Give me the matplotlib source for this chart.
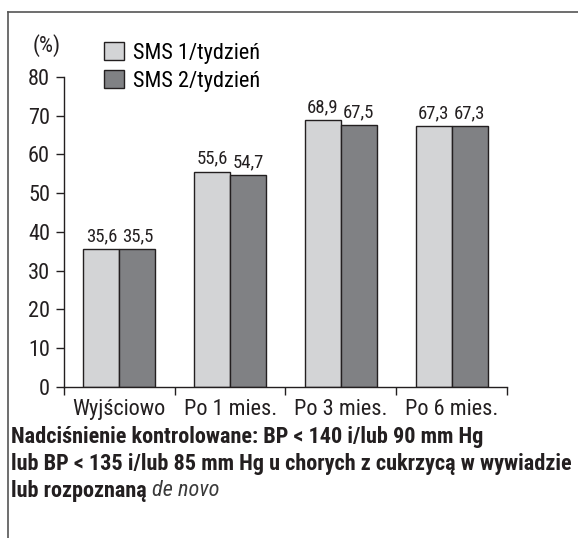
import matplotlib
matplotlib.use("Agg")
import numpy as np
import matplotlib.pyplot as plt
from matplotlib.lines import Line2D
from matplotlib.patches import Patch

categories = ["Wyjściowo", "Po 1 mies.", "Po 3 mies.", "Po 6 mies."]
series_names = ["SMS 1/tydzień", "SMS 2/tydzień"]
sms1 = [35.6, 55.6, 68.9, 67.3]
sms2 = [35.5, 54.7, 67.5, 67.3]
yticks = [0, 10, 20, 30, 40, 50, 60, 70, 80]

colors = ["#d3d4d6", "#808184"]
ink = "#231f20"
plt.rcParams["font.family"] = ["Roboto Condensed", "DejaVu Sans"]

fig = plt.figure(figsize=(5.78, 5.38), dpi=100)
ax = fig.add_axes([0.1107, 0.2807, 0.7664, 0.5762])

x = np.arange(len(categories))
w = 0.325
for vals, off, col in [(sms1, -w / 2, colors[0]), (sms2, w / 2, colors[1])]:
    ax.bar(x + off, vals, width=w, color=col, edgecolor=ink, linewidth=1.0)
    for xi, v in zip(x + off, vals):
        ax.text(xi, v + 1.0, f"{v:.1f}".replace(".", ","), ha="center", va="bottom",
                fontsize=13.5, color=ink)

ax.set_xlim(-0.5, len(categories) - 0.5)
ax.set_ylim(0, 80)
ax.set_yticks(yticks)
ax.set_xticks(x)
ax.set_xticklabels(categories)
ax.set_xticks(np.arange(len(categories) + 1) - 0.5, minor=True)
ax.tick_params(axis="x", which="major", length=0, labelsize=16, pad=9, colors=ink)
ax.tick_params(axis="x", which="minor", length=6, width=1, direction="out", color=ink)
ax.tick_params(axis="y", length=6, width=1, labelsize=16, pad=4, colors=ink)
for s in ["top", "right"]:
    ax.spines[s].set_visible(False)
for s in ["left", "bottom"]:
    ax.spines[s].set_color(ink)
    ax.spines[s].set_linewidth(1.0)

fig.text(33 / 578, 1 - 46 / 538, "(%)", fontsize=16, va="center", ha="left", color=ink)

handles = [Patch(facecolor=c, edgecolor=ink, linewidth=1.0) for c in colors]
fig.legend(handles, series_names, loc="upper left", bbox_to_anchor=(104 / 578, 1 - 42 / 538),
           frameon=False, fontsize=16, handlelength=0.9, handleheight=0.86,
           handletextpad=0.4, labelspacing=0.3, borderaxespad=0, borderpad=0)

note_lines = [
    "Nadciśnienie kontrolowane: BP < 140 i/lub 90 mm Hg",
    "lub BP < 135 i/lub 85 mm Hg u chorych z cukrzycą w wywiadzie",
]
for i, line in enumerate(note_lines):
    fig.text(11 / 578, 1 - (437 + 27 * i) / 538, line, fontsize=16, fontweight="bold",
             va="center", ha="left", color=ink)
t = fig.text(11 / 578, 1 - 491 / 538, "lub rozpoznaną ", fontsize=16, fontweight="bold",
             va="center", ha="left", color=ink)
fig.canvas.draw()
bb = t.get_window_extent()
fig.text(bb.x1 / fig.bbox.width, 1 - 491 / 538, "de novo", fontsize=16, style="italic",
         va="center", ha="left", color="#3a3a3a")

# frame around the figure (left and top edges)
fig.add_artist(Line2D([8 / 578, 8 / 578], [0, 1 - 12 / 538], color="#555555", linewidth=1.2))
fig.add_artist(Line2D([8 / 578, 1], [1 - 12 / 538, 1 - 12 / 538], color="#555555", linewidth=1.2))

fig.savefig("out.png", dpi=100)
